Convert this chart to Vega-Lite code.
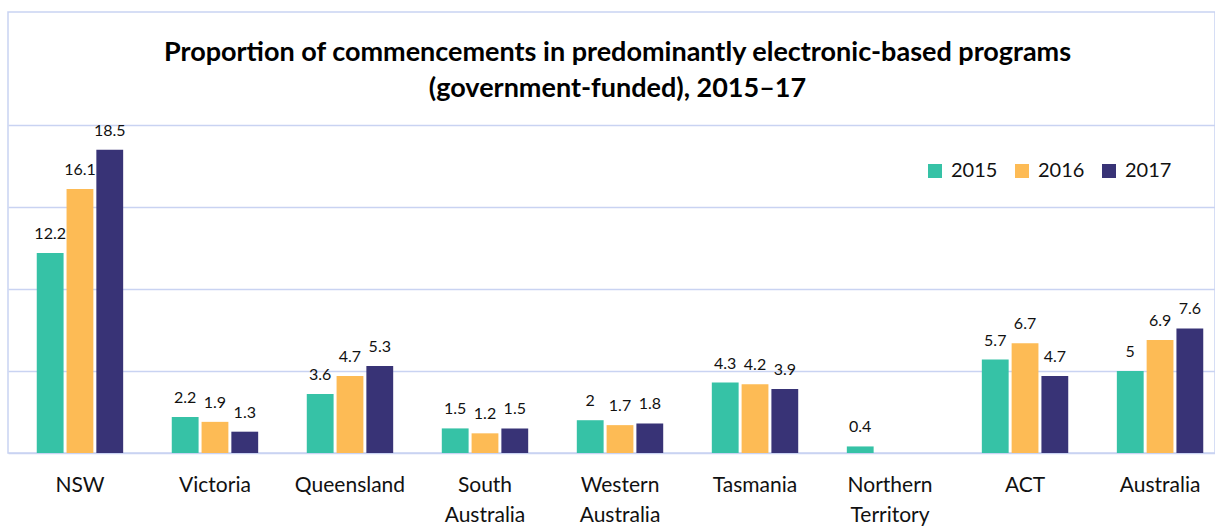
{
  "$schema": "https://vega.github.io/schema/vega-lite/v6.json",
  "width": 1207,
  "height": 441,
  "autosize": {"type": "none"},
  "padding": {"left": 8, "top": 12, "right": 0, "bottom": 74},
  "background": "white",
  "title": {
    "text": ["Proportion of commencements in predominantly electronic-based programs", "(government-funded), 2015–17"],
    "font": "Lato",
    "fontSize": 27,
    "fontWeight": "bold",
    "color": "black",
    "lineHeight": 36,
    "anchor": "middle",
    "frame": "group",
    "offset": -91,
    "dx": 6
  },
  "data": {
    "values": [
      {"state": "NSW", "year": "2015", "value": 12.2},
      {"state": "NSW", "year": "2016", "value": 16.1},
      {"state": "NSW", "year": "2017", "value": 18.5},
      {"state": "Victoria", "year": "2015", "value": 2.2},
      {"state": "Victoria", "year": "2016", "value": 1.9},
      {"state": "Victoria", "year": "2017", "value": 1.3},
      {"state": "Queensland", "year": "2015", "value": 3.6},
      {"state": "Queensland", "year": "2016", "value": 4.7},
      {"state": "Queensland", "year": "2017", "value": 5.3},
      {"state": "South Australia", "year": "2015", "value": 1.5},
      {"state": "South Australia", "year": "2016", "value": 1.2},
      {"state": "South Australia", "year": "2017", "value": 1.5},
      {"state": "Western Australia", "year": "2015", "value": 2},
      {"state": "Western Australia", "year": "2016", "value": 1.7},
      {"state": "Western Australia", "year": "2017", "value": 1.8},
      {"state": "Tasmania", "year": "2015", "value": 4.3},
      {"state": "Tasmania", "year": "2016", "value": 4.2},
      {"state": "Tasmania", "year": "2017", "value": 3.9},
      {"state": "Northern Territory", "year": "2015", "value": 0.4},
      {"state": "ACT", "year": "2015", "value": 5.7},
      {"state": "ACT", "year": "2016", "value": 6.7},
      {"state": "ACT", "year": "2017", "value": 4.7},
      {"state": "Australia", "year": "2015", "value": 5},
      {"state": "Australia", "year": "2016", "value": 6.9},
      {"state": "Australia", "year": "2017", "value": 7.6}
    ]
  },
  "encoding": {
    "x": {
      "field": "state",
      "type": "nominal",
      "sort": ["NSW", "Victoria", "Queensland", "South Australia", "Western Australia", "Tasmania", "Northern Territory", "ACT", "Australia"],
      "scale": {"paddingInner": 0.36, "paddingOuter": 0.15, "align": 0.71},
      "axis": {
        "title": null,
        "labelExpr": "split(datum.label, ' ')",
        "labelFont": "Lato",
        "labelFontSize": 21,
        "labelColor": "#111111",
        "labelLineHeight": 30,
        "labelPadding": 21,
        "ticks": false,
        "domain": false,
        "labelAngle": 0,
        "labelLimit": 0,
        "labelOverlap": false
      }
    },
    "xOffset": {
      "field": "year",
      "type": "nominal",
      "scale": {"paddingInner": 0.1, "paddingOuter": 0}
    },
    "y": {
      "field": "value",
      "type": "quantitative",
      "scale": {"domain": [0, 26.9], "nice": false},
      "axis": {
        "values": [0, 5, 10, 15, 20],
        "labels": false,
        "ticks": false,
        "domain": false,
        "title": null,
        "grid": true,
        "gridColor": "#C9D3F2",
        "gridWidth": 1.5
      }
    }
  },
  "layer": [
    {
      "mark": {"type": "bar"},
      "encoding": {
        "color": {
          "field": "year",
          "type": "nominal",
          "scale": {"domain": ["2015", "2016", "2017"], "range": ["#36C2A6", "#FDBB55", "#383376"]},
          "legend": {
            "title": null,
            "orient": "none",
            "legendX": 917,
            "legendY": 149,
            "direction": "horizontal",
            "symbolType": "square",
            "symbolSize": 196,
            "symbolStrokeWidth": 0,
            "labelFont": "Lato",
            "labelFontSize": 20,
            "labelColor": "#111111",
            "labelOffset": 6,
            "columnPadding": 14,
            "padding": 0
          }
        }
      }
    },
    {
      "mark": {"type": "text", "baseline": "alphabetic", "dy": -14, "font": "Lato", "fontSize": 16, "color": "#111111"},
      "encoding": {
        "text": {"field": "value", "type": "quantitative", "format": "~g"}
      }
    }
  ],
  "config": {
    "view": {"stroke": "#C9D3F2", "strokeWidth": 1.5},
    "font": "Lato"
  }
}
